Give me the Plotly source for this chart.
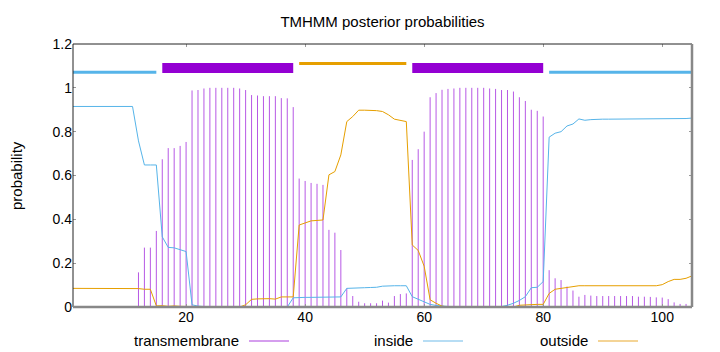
import plotly.graph_objects as go

# ---------------- data ----------------
residues = list(range(1, 106))

transmembrane = [
    0, 0, 0, 0, 0, 0, 0, 0, 0, 0,                                   # 1-10
    0, 0.158, 0.271, 0.271, 0.347, 0.674, 0.725, 0.725, 0.735, 0.753,  # 11-20
    0.988, 0.99, 0.997, 1.0, 1.0, 1.0, 1.0, 1.0, 0.997, 0.99,        # 21-30
    0.967, 0.965, 0.962, 0.962, 0.962, 0.953, 0.952, 0.912, 0.586, 0.575,  # 31-40
    0.566, 0.562, 0.557, 0.352, 0.339, 0.26, 0.085, 0.05, 0.024, 0.017,    # 41-50
    0.017, 0.017, 0.029, 0.02, 0.05, 0.059, 0.062, 0.671, 0.72, 0.80,      # 51-60
    0.957, 0.976, 0.991, 0.995, 0.997, 1.0, 1.0, 1.0, 1.0, 1.0,            # 61-70
    0.997, 0.995, 0.99, 0.99, 0.983, 0.957, 0.94, 0.90, 0.895, 0.869,      # 71-80
    0.168, 0.131, 0.123, 0.093, 0.075, 0.047, 0.055, 0.052, 0.05, 0.05,    # 81-90
    0.05, 0.05, 0.05, 0.05, 0.05, 0.047, 0.047, 0.046, 0.044, 0.043,       # 91-100
    0.036, 0.021, 0.014, 0.014, 0.0,                                      # 101-105
]

inside = [
    0.915, 0.915, 0.915, 0.915, 0.915, 0.915, 0.915, 0.915, 0.915, 0.915,  # 1-10
    0.915, 0.758, 0.648, 0.648, 0.648, 0.32, 0.272, 0.27, 0.262, 0.253,    # 11-20
    0.01, 0.004, 0.002, 0, 0, 0, 0, 0, 0, 0,                               # 21-30
    0, 0, 0, 0, 0, 0, 0, 0.042, 0.044, 0.044,                              # 31-40
    0.044, 0.044, 0.044, 0.044, 0.044, 0.046, 0.085, 0.087, 0.088, 0.088,  # 41-50
    0.089, 0.09, 0.095, 0.097, 0.097, 0.097, 0.097, 0.047, 0.035, 0.022,   # 51-60
    0.012, 0.007, 0.004, 0, 0, 0, 0, 0, 0, 0,                             # 61-70
    0, 0, 0.002, 0.008, 0.017, 0.03, 0.047, 0.088, 0.09, 0.116,            # 71-80
    0.775, 0.793, 0.80, 0.826, 0.835, 0.858, 0.852, 0.855, 0.857, 0.857,   # 81-90
    0.857, 0.857, 0.857, 0.857, 0.857, 0.857, 0.857, 0.857, 0.857, 0.857,  # 91-100
    0.858, 0.858, 0.86, 0.86, 0.862,                                       # 101-105
]

outside = [
    0.085, 0.085, 0.085, 0.085, 0.085, 0.085, 0.085, 0.085, 0.085, 0.085,  # 1-10
    0.085, 0.084, 0.081, 0.081, 0.005, 0.006, 0.003, 0.005, 0.003, 0.002,  # 11-20
    0.001, 0, 0, 0, 0, 0, 0, 0, 0, 0.01,                                   # 21-30
    0.035, 0.037, 0.038, 0.038, 0.036, 0.046, 0.046, 0.046, 0.374, 0.385,  # 31-40
    0.393, 0.395, 0.397, 0.603, 0.618, 0.694, 0.846, 0.869, 0.898, 0.898,  # 41-50
    0.898, 0.896, 0.892, 0.877, 0.857, 0.851, 0.846, 0.283, 0.258, 0.186,  # 51-60
    0.033, 0.017, 0.004, 0, 0, 0, 0, 0, 0, 0,                             # 61-70
    0, 0, 0, 0, 0, 0.008, 0.01, 0.012, 0.012, 0.012,                       # 71-80
    0.062, 0.081, 0.085, 0.09, 0.093, 0.097, 0.097, 0.097, 0.097, 0.097,   # 81-90
    0.097, 0.097, 0.097, 0.097, 0.097, 0.097, 0.097, 0.097, 0.097, 0.102,  # 91-100
    0.116, 0.126, 0.126, 0.131, 0.142,                                     # 101-105
]

# predicted topology: (label, first residue, last residue)
topology = [
    ("inside", 1, 15),
    ("transmembrane", 16, 38),
    ("outside", 39, 57),
    ("transmembrane", 58, 80),
    ("inside", 81, 105),
]

title_text = "TMHMM posterior probabilities"
y_label = "probability"
x_ticks = [20, 40, 60, 80, 100]
y_ticks = [0, 0.2, 0.4, 0.6, 0.8, 1.0, 1.2]
y_tick_labels = ["0", "0.2", "0.4", "0.6", "0.8", "1", "1.2"]
legend_labels = ["transmembrane", "inside", "outside"]

# ---------------- styling ----------------
W, H = 720, 352
ML, MR, MT, MB = 73, 28, 44, 45
COL = {"transmembrane": "#9400D3", "inside": "#56B4E9", "outside": "#E69F00"}
LEGEND_COL = {"transmembrane": "#c77ee8", "inside": "#9fd2f0", "outside": "#f0c673"}
LEVEL = {"inside": 1.071, "transmembrane": 1.09, "outside": 1.111}
BARW = {"inside": 3, "transmembrane": 10, "outside": 3}
FONT = "Liberation Sans, Arial, sans-serif"

pw = W - ML - MR
ph = H - MT - MB


def px(xp):
    return (xp - ML) / pw


def py(yp):
    return (H - MB - yp) / ph


fig = go.Figure()

# impulses for the transmembrane probability
ix, iy = [], []
for r, v in zip(residues, transmembrane):
    ix += [r, r, None]
    iy += [0, v, None]
fig.add_trace(go.Scatter(x=ix, y=iy, mode="lines",
                         line=dict(color="rgba(170,60,225,0.85)", width=1),
                         hoverinfo="skip", showlegend=False))

fig.add_trace(go.Scatter(x=residues, y=inside, mode="lines",
                         line=dict(color=COL["inside"], width=1),
                         showlegend=False))
fig.add_trace(go.Scatter(x=residues, y=outside, mode="lines",
                         line=dict(color=COL["outside"], width=1),
                         showlegend=False))

# topology bars at the top
for label in ["inside", "outside", "transmembrane"]:
    tx, ty = [], []
    for lab, a, b in topology:
        if lab == label:
            tx += [a, b, None]
            ty += [LEVEL[label], LEVEL[label], None]
    fig.add_trace(go.Scatter(x=tx, y=ty, mode="lines",
                             line=dict(color=COL[label], width=BARW[label]),
                             showlegend=False, hoverinfo="skip"))

shapes = [
    # frame
    dict(type="line", xref="paper", yref="paper", x0=0, x1=1, y0=1, y1=1,
         line=dict(color="#222", width=1)),
    dict(type="line", xref="paper", yref="paper", x0=0, x1=0, y0=0, y1=1,
         line=dict(color="#222", width=1)),
    dict(type="line", xref="paper", yref="paper", x0=0, x1=1, y0=0, y1=0,
         line=dict(color="#888", width=2.5)),
    dict(type="line", xref="paper", yref="paper", x0=1, x1=1, y0=0, y1=1,
         line=dict(color="#888", width=2.5)),
]

annotations = [
    dict(text=y_label, xref="paper", yref="paper", x=px(16), y=py(176),
         textangle=-90, showarrow=False, xanchor="center", yanchor="middle",
         font=dict(family=FONT, size=15, color="#000")),
]

# legend (gnuplot style: text then line sample)
legend_text_right = [241, 415, 590]
for lab, xr in zip(legend_labels, legend_text_right):
    annotations.append(dict(text=lab, xref="paper", yref="paper", x=px(xr), y=py(340),
                            showarrow=False, xanchor="right", yanchor="middle",
                            font=dict(family=FONT, size=15, color="#000")))
    shapes.append(dict(type="line", xref="paper", yref="paper",
                       x0=px(xr + 8), x1=px(xr + 48), y0=py(341), y1=py(341),
                       line=dict(color=LEGEND_COL[lab], width=1.5)))

fig.update_layout(
    width=W, height=H,
    margin=dict(l=ML, r=MR, t=MT, b=MB, pad=0),
    paper_bgcolor="white", plot_bgcolor="white",
    font=dict(family=FONT, size=14, color="#000"),
    title=dict(text=title_text, x=0.5, xref="paper", xanchor="center",
               y=1 - 22 / H, yref="container", yanchor="middle",
               font=dict(family=FONT, size=15, color="#000")),
    shapes=shapes,
    annotations=annotations,
    showlegend=False,
    xaxis=dict(range=[1, 105], tickvals=x_ticks, ticks="inside", ticklen=3,
               tickcolor="#999", mirror="ticks", showline=False, showgrid=False,
               zeroline=False, tickfont=dict(family=FONT, size=14, color="#000")),
    yaxis=dict(range=[0, 1.2], tickvals=y_ticks, ticktext=y_tick_labels,
               ticks="inside", ticklen=3, tickcolor="#999", mirror="ticks",
               showline=False, showgrid=False, zeroline=False,
               tickfont=dict(family=FONT, size=14, color="#000")),
)

fig.write_html("out.html")
